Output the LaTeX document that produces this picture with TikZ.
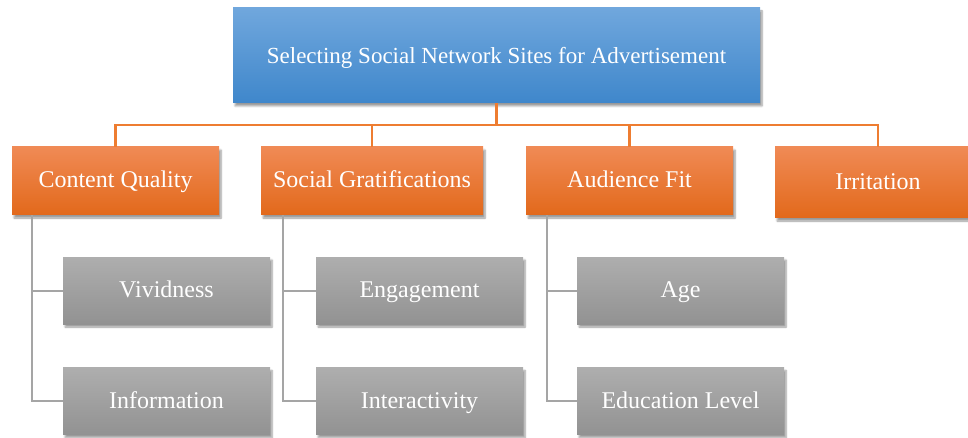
\documentclass[tikz,border=0pt]{standalone}
\usepackage{fontspec}
\setmainfont{Liberation Serif}
\usetikzlibrary{shadows.blur}
\definecolor{blueTop}{HTML}{70A7DD}
\definecolor{blueBot}{HTML}{3F87CB}
\definecolor{orangeTop}{HTML}{F08A55}
\definecolor{orangeMid}{HTML}{F47D2C}
\definecolor{orangeBot}{HTML}{E2691B}
\definecolor{orangeLine}{HTML}{EE7D31}
\definecolor{grayTop}{HTML}{AEAEAE}
\definecolor{grayBot}{HTML}{929292}
\definecolor{grayLine}{HTML}{A5A5A5}
\begin{document}
\begin{tikzpicture}[x=1pt,y=-1pt]
	\tikzstyle{box}=[rectangle,inner sep=0pt,text=white,font=\fontsize{24}{28}\selectfont,text height=15pt,text depth=1pt,blur shadow={shadow xshift=2pt,shadow yshift=-3pt,shadow blur steps=6,shadow opacity=40}]
	\tikzstyle{rootbox}=[box,font=\fontsize{23}{27}\selectfont,text height=17pt,text depth=0pt,minimum width=527pt,minimum height=95pt,top color=blueTop,bottom color=blueBot]
	\tikzstyle{mainbox}=[box,minimum height=68pt,top color=orangeTop,middle color=orangeMid,bottom color=orangeBot]
	\tikzstyle{subbox}=[box,minimum width=207pt,minimum height=67pt,top color=grayTop,bottom color=grayBot]
	\tikzstyle{busline}=[draw=orangeLine,line width=2.5pt]
	\tikzstyle{leafline}=[draw=grayLine,line width=2pt]
	\useasboundingbox (0,0) rectangle (968,438);
	\node[rootbox] (root) at (496.5,55.5) {Selecting Social Network Sites for Advertisement};
	\coordinate (bus) at (0,125);
	\foreach \n/\x/\w/\t in {cq/115.5/207/Content Quality, sg/372/222/Social Gratifications, af/629.5/207/Audience Fit} {\node[mainbox,minimum width=\w pt] (\n) at (\x,181) {\t};}
	\node[mainbox,minimum width=206pt,minimum height=71pt] (ir) at (878,182.5) {Irritation};
	\foreach \n/\x/\t in {viv/166.5/Vividness, eng/419.5/Engagement, age/680.5/Age} {\node[subbox] (\n) at (\x,290.5) {\t};}
	\foreach \n/\x/\t in {inf/166.5/Information, int/419.5/Interactivity, edu/680.5/Education Level} {\node[subbox] (\n) at (\x,401) {\t};}
	% orange bus from the root
	\foreach \c in {cq, sg, af, ir} {\draw[busline] (root.south) -- (root.south |- bus) -| (\c.north);}
	% gray branches to the leaves
	\foreach \p/\a/\b/\s in {cq/viv/inf/20pt, sg/eng/int/22pt, af/age/edu/21pt} {
		\draw[leafline] ([xshift=\s]\p.south west) |- (\a.west);
		\draw[leafline] ([xshift=\s]\p.south west) |- (\b.west);
	}
\end{tikzpicture}
\end{document}
